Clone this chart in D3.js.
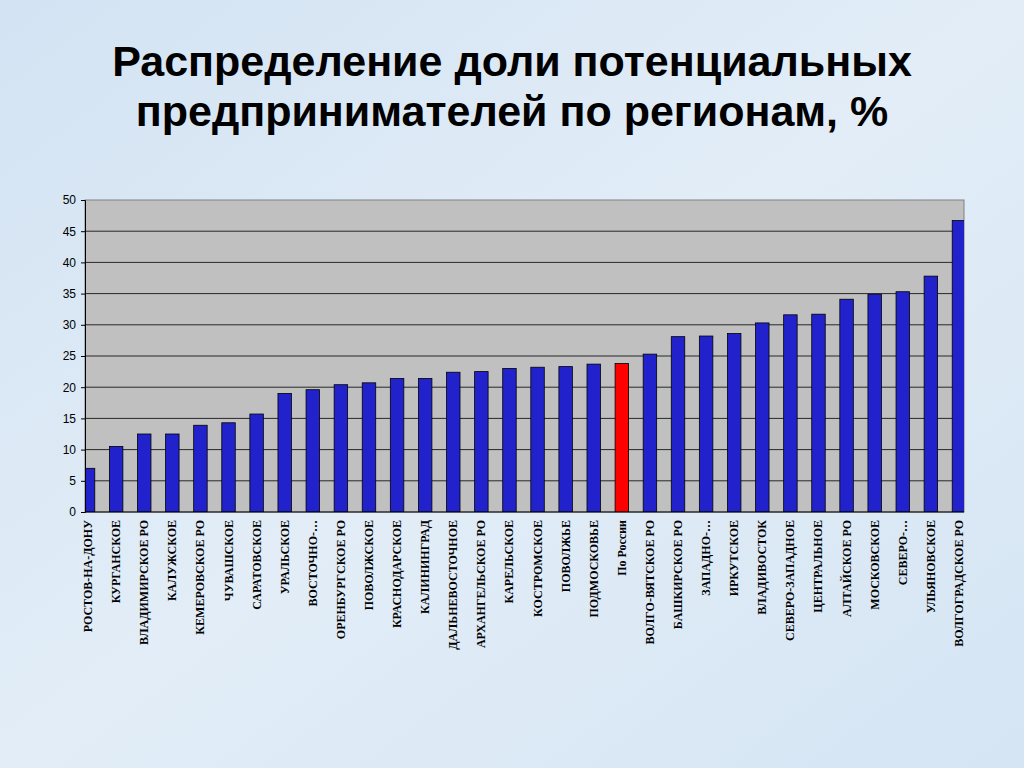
<!DOCTYPE html>
<html><head><meta charset="utf-8">
<script src="https://cdn.jsdelivr.net/npm/d3@7"></script>
<style>body{margin:0;background:#d9e7f4;}svg{display:block}</style>
</head><body>
<svg id="chart" width="1024" height="768"></svg>
<script>
const regions = ["РОСТОВ-НА-ДОНУ","КУРГАНСКОЕ","ВЛАДИМИРСКОЕ РО","КАЛУЖСКОЕ","КЕМЕРОВСКОЕ РО","ЧУВАШСКОЕ","САРАТОВСКОЕ","УРАЛЬСКОЕ","ВОСТОЧНО-…","ОРЕНБУРГСКОЕ РО","ПОВОЛЖСКОЕ","КРАСНОДАРСКОЕ","КАЛИНИНГРАД","ДАЛЬНЕВОСТОЧНОЕ","АРХАНГЕЛЬСКОЕ РО","КАРЕЛЬСКОЕ","КОСТРОМСКОЕ","ПОВОЛЖЬЕ","ПОДМОСКОВЬЕ","По России","ВОЛГО-ВЯТСКОЕ РО","БАШКИРСКОЕ РО","ЗАПАДНО-…","ИРКУТСКОЕ","ВЛАДИВОСТОК","СЕВЕРО-ЗАПАДНОЕ","ЦЕНТРАЛЬНОЕ","АЛТАЙСКОЕ РО","МОСКОВСКОЕ","СЕВЕРО-…","УЛЬЯНОВСКОЕ","ВОЛГОГРАДСКОЕ РО"];
const shares = [7,10.5,12.5,12.5,13.9,14.3,15.7,19,19.6,20.4,20.7,21.4,21.4,22.4,22.5,23,23.2,23.3,23.7,23.8,25.3,28.1,28.2,28.6,30.3,31.6,31.7,34.1,34.9,35.3,37.8,46.7];
const highlight = "По России";
const yTicks = [0,5,10,15,20,25,30,35,40,45,50];

const svg = d3.select("#chart");
const defs = svg.append("defs");
const g0 = defs.append("linearGradient").attr("id","bg").attr("x1",0).attr("y1",0).attr("x2",1).attr("y2",1);
g0.append("stop").attr("offset",0).attr("stop-color","#d3e3f3");
g0.append("stop").attr("offset",0.5).attr("stop-color","#e2edf7");
g0.append("stop").attr("offset",1).attr("stop-color","#d5e5f4");
svg.append("rect").attr("width",1024).attr("height",768).attr("fill","url(#bg)");

svg.append("text").attr("x",512).attr("y",76).attr("text-anchor","middle")
  .attr("font-family","Liberation Sans, Arial").attr("font-weight","bold").attr("font-size",43)
  .selectAll("tspan").data(["Распределение доли потенциальных","предпринимателей по регионам, %"]).enter()
  .append("tspan").attr("x",512).attr("dy",(d,i)=>i?50:0).text(d=>d);

const pLeft=85, pRight=964, pTop=200, pBottom=512;
const x = d3.scaleBand().domain(regions).range([74,973]).paddingInner(0.52).paddingOuter(0.26);
const y = d3.scaleLinear().domain([0,50]).range([pBottom,pTop]);

svg.append("rect").attr("x",pLeft).attr("y",pTop).attr("width",pRight-pLeft).attr("height",pBottom-pTop)
  .attr("fill","#c0c0c0").attr("stroke","#808080");
svg.append("g").selectAll("line").data(yTicks.slice(1,-1)).enter().append("line")
  .attr("x1",pLeft).attr("x2",pRight).attr("y1",d=>y(d)).attr("y2",d=>y(d)).attr("stroke","#000").attr("stroke-width",0.8);

defs.append("clipPath").attr("id","clip").append("rect").attr("x",pLeft).attr("y",pTop).attr("width",pRight-pLeft).attr("height",pBottom-pTop);
svg.append("g").attr("clip-path","url(#clip)").selectAll("rect").data(regions).enter().append("rect")
  .attr("x",d=>x(d)).attr("width",x.bandwidth())
  .attr("y",(d,i)=>y(shares[i])).attr("height",(d,i)=>pBottom-y(shares[i]))
  .attr("fill",d=>d===highlight?"#ff0000":"#2222cc").attr("stroke","#000").attr("stroke-width",0.8);

const ya = svg.append("g").attr("transform",`translate(${pLeft},0)`)
  .call(d3.axisLeft(y).tickValues(yTicks).tickSize(4).tickPadding(5));
ya.select(".domain").attr("stroke","#000");
ya.selectAll("text").attr("font-family","Liberation Sans, Arial").attr("font-size",12).attr("fill","#000");
svg.append("line").attr("x1",pLeft).attr("x2",pRight).attr("y1",pBottom).attr("y2",pBottom).attr("stroke","#000");

svg.append("g").selectAll("text").data(regions).enter().append("text")
  .attr("transform",d=>`translate(${x(d)+x.bandwidth()/2+4},520) rotate(-90)`)
  .attr("text-anchor","end").attr("font-family","Liberation Serif, Times New Roman").attr("font-weight","bold")
  .attr("font-size",12).attr("fill","#000").text(d=>d);
</script>
</body></html>
